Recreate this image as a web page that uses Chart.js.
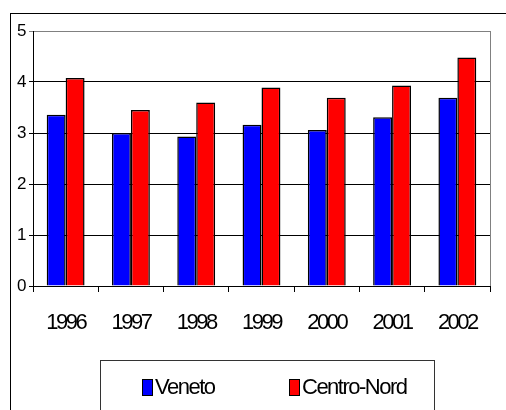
<!DOCTYPE html>
<html>
<head>
<meta charset="utf-8">
<script src="https://cdn.jsdelivr.net/npm/chart.js@4/dist/chart.umd.min.js"></script>
<style>
  body { margin: 0; background: #fff; }
  #wrap { position: relative; width: 506px; height: 410px; overflow: hidden; }
  #frame { position: absolute; left: 10px; top: 13px; width: 520px; height: 420px;
           border-left: 1px solid #000; border-top: 1px solid #000; }
  #legend { position: absolute; left: 100px; top: 360px; width: 333px; height: 80px;
            border: 1px solid #333; font-family: 'Liberation Sans', Arial, sans-serif;
            font-size: 22px; color: #000; }
  #legend .item { position: absolute; top: 15px; line-height: 22px; display: flex; align-items: center; letter-spacing: -1.5px; }
  #legend .box { display: inline-block; width: 9px; height: 15px; border: 1px solid #000; margin-right: 2px; }
</style>
</head>
<body>
<div id="wrap">
  <div id="frame"></div>
  <canvas id="chart"></canvas>
  <div id="legend"></div>
</div>
<script>
// values
const years = ['1996', '1997', '1998', '1999', '2000', '2001', '2002'];
const veneto = [3.36, 3.00, 2.93, 3.16, 3.06, 3.31, 3.69];
const centroNord = [4.08, 3.45, 3.60, 3.89, 3.69, 3.93, 4.48];
const seriesNames = ['Veneto', 'Centro-Nord'];
const seriesColors = ['#0000ff', '#ff0000'];

// squeezed year labels + gray border on the right of the plot area
const plotBorder = {
    id: 'plotBorder',
    beforeDraw(chart) {
        chart.ctx.letterSpacing = '-2.5px';
    },
    afterDraw(chart) {
        const a = chart.chartArea;
        const ctx = chart.ctx;
        ctx.letterSpacing = '0px';
        ctx.save();
        ctx.strokeStyle = '#808080';
        ctx.lineWidth = 1;
        ctx.beginPath();
        ctx.moveTo(a.right + 0.5, a.top);
        ctx.lineTo(a.right + 0.5, a.bottom);
        ctx.stroke();
        ctx.restore();
    }
};

const ctx = document.getElementById('chart').getContext('2d');
const chart = new Chart(ctx, {
    type: 'bar',
    data: {
        labels: years,
        datasets: [
            { label: seriesNames[0], data: veneto, backgroundColor: seriesColors[0], borderColor: '#000', borderWidth: 1.5 },
            { label: seriesNames[1], data: centroNord, backgroundColor: seriesColors[1], borderColor: '#000', borderWidth: 1.5 }
        ]
    },
    options: {
        responsive: true,
        maintainAspectRatio: false,
        animation: false,
        layout: { padding: { left: 0, top: 31, right: 16, bottom: 64 } },
        datasets: { bar: { categoryPercentage: 0.58, barPercentage: 1 } },
        plugins: { legend: { display: false }, tooltip: { enabled: false } },
        scales: {
            x: {
                afterFit: s => { s.height = 60; },
                grid: { offset: true, drawOnChartArea: false, color: '#000', tickLength: 6 },
                border: { color: '#000' },
                ticks: { color: '#000', padding: 18, font: { family: "'Liberation Sans', Arial, sans-serif", size: 22 } }
            },
            y: {
                min: 0,
                max: 5,
                afterFit: s => { s.width = 33; },
                grid: {
                    color: c => c.tick && c.tick.value === 5 ? '#808080' : '#000',
                    tickLength: 4
                },
                border: { color: '#000' },
                ticks: { stepSize: 1, color: '#000', padding: 5, font: { family: "'Liberation Sans', Arial, sans-serif", size: 17 } }
            }
        }
    },
    plugins: [plotBorder]
});

// legend built from the chart datasets
const legend = document.getElementById('legend');
const itemLeft = [41, 188];
chart.data.datasets.forEach((ds, i) => {
    const item = document.createElement('div');
    item.className = 'item';
    item.style.left = itemLeft[i] + 'px';
    const box = document.createElement('span');
    box.className = 'box';
    box.style.background = ds.backgroundColor;
    item.appendChild(box);
    item.appendChild(document.createTextNode(ds.label));
    legend.appendChild(item);
});
</script>
</body>
</html>
